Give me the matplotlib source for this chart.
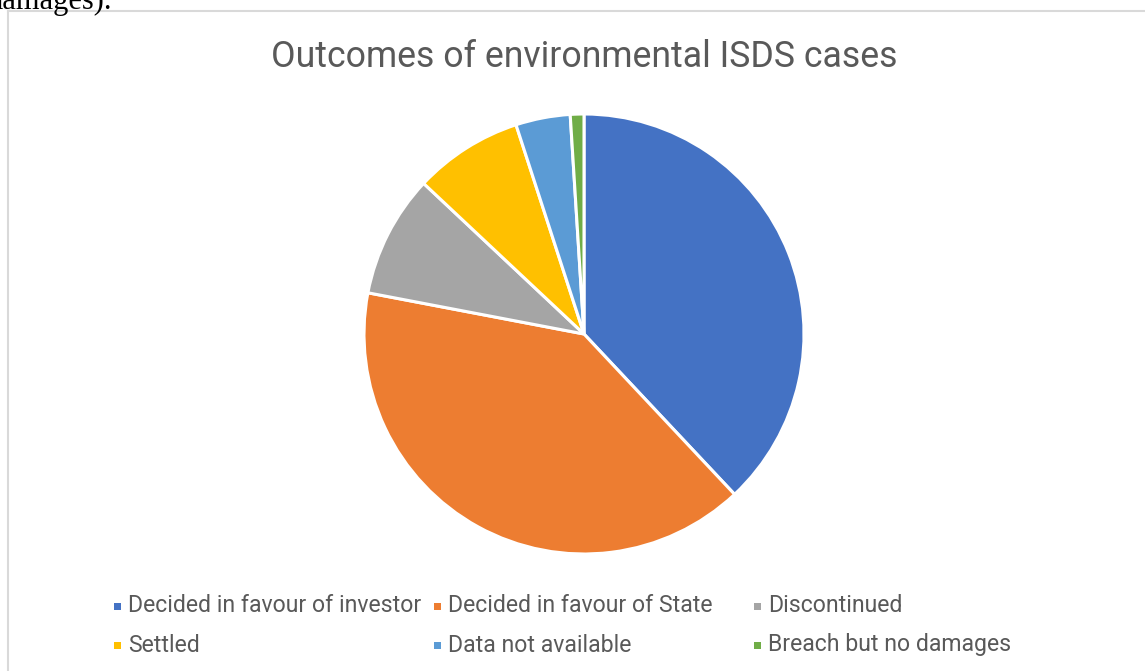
import matplotlib.pyplot as plt
from matplotlib.patches import Rectangle
from matplotlib.lines import Line2D

labels = ['Decided in favour of investor', 'Decided in favour of State', 'Discontinued',
          'Settled', 'Data not available', 'Breach but no damages']
values = [38, 40, 9, 8, 4, 1]
colors = ['#4472C4', '#ED7D31', '#A5A5A5', '#FFC000', '#5B9BD5', '#70AD47']
title = 'Outcomes of environmental ISDS cases'

W, H = 1145, 671
fig = plt.figure(figsize=(W / 100, H / 100), dpi=100)
plt.rcParams['font.family'] = ['Roboto', 'DejaVu Sans']

def fx(px):
    return px / W

def fy(py):
    return 1 - py / H

# chart frame (only top and left visible)
fig.add_artist(Line2D([fx(8), fx(8)], [fy(11), 0], color='#D9D9D9', lw=1.5))
fig.add_artist(Line2D([fx(8), 1], [fy(11), fy(11)], color='#D9D9D9', lw=1.5))

# leftover text from the page above
fig.text(fx(-12), fy(1), 'damages).', family='Liberation Serif', fontsize=22,
         color='black', va='center', ha='left')

# pie
cx, cy, r = 584, 334, 220
ax = fig.add_axes([fx(cx - r), fy(cy + r), 2 * r / W, 2 * r / H])
ax.pie(values, colors=colors, startangle=90, counterclock=False, radius=1,
       wedgeprops=dict(edgecolor='white', linewidth=2.2))
ax.set_xlim(-1, 1)
ax.set_ylim(-1, 1)
ax.set_aspect('equal')
ax.axis('off')

fig.canvas.draw()
renderer = fig.canvas.get_renderer()

def fit_text(x, y, s, target_w, size0, **kw):
    t = fig.text(x, y, s, fontsize=size0, **kw)
    w = t.get_window_extent(renderer).width
    t.set_fontsize(size0 * target_w / w)
    return t

fit_text(fx(584), fy(57), title, 625, 20, color='#595959', ha='center', va='center')

# legend
for i, lab in enumerate(labels):
    row, col = divmod(i, 3)
    mx = 117 + 320 * col
    my = 606 + 39 * row
    fig.add_artist(Rectangle((fx(mx - 3.5), fy(my + 3.5)), fx(7), 7 / H,
                             facecolor=colors[i], edgecolor='none'))
    t = fig.text(fx(mx + 11), fy(my), lab, fontsize=14, color='#595959',
                 ha='left', va='center')
    if i == 0:
        w = t.get_window_extent(renderer).width
        leg_size = 14 * 295 / w
    t.set_fontsize(leg_size)

fig.savefig('out.png', dpi=100)
